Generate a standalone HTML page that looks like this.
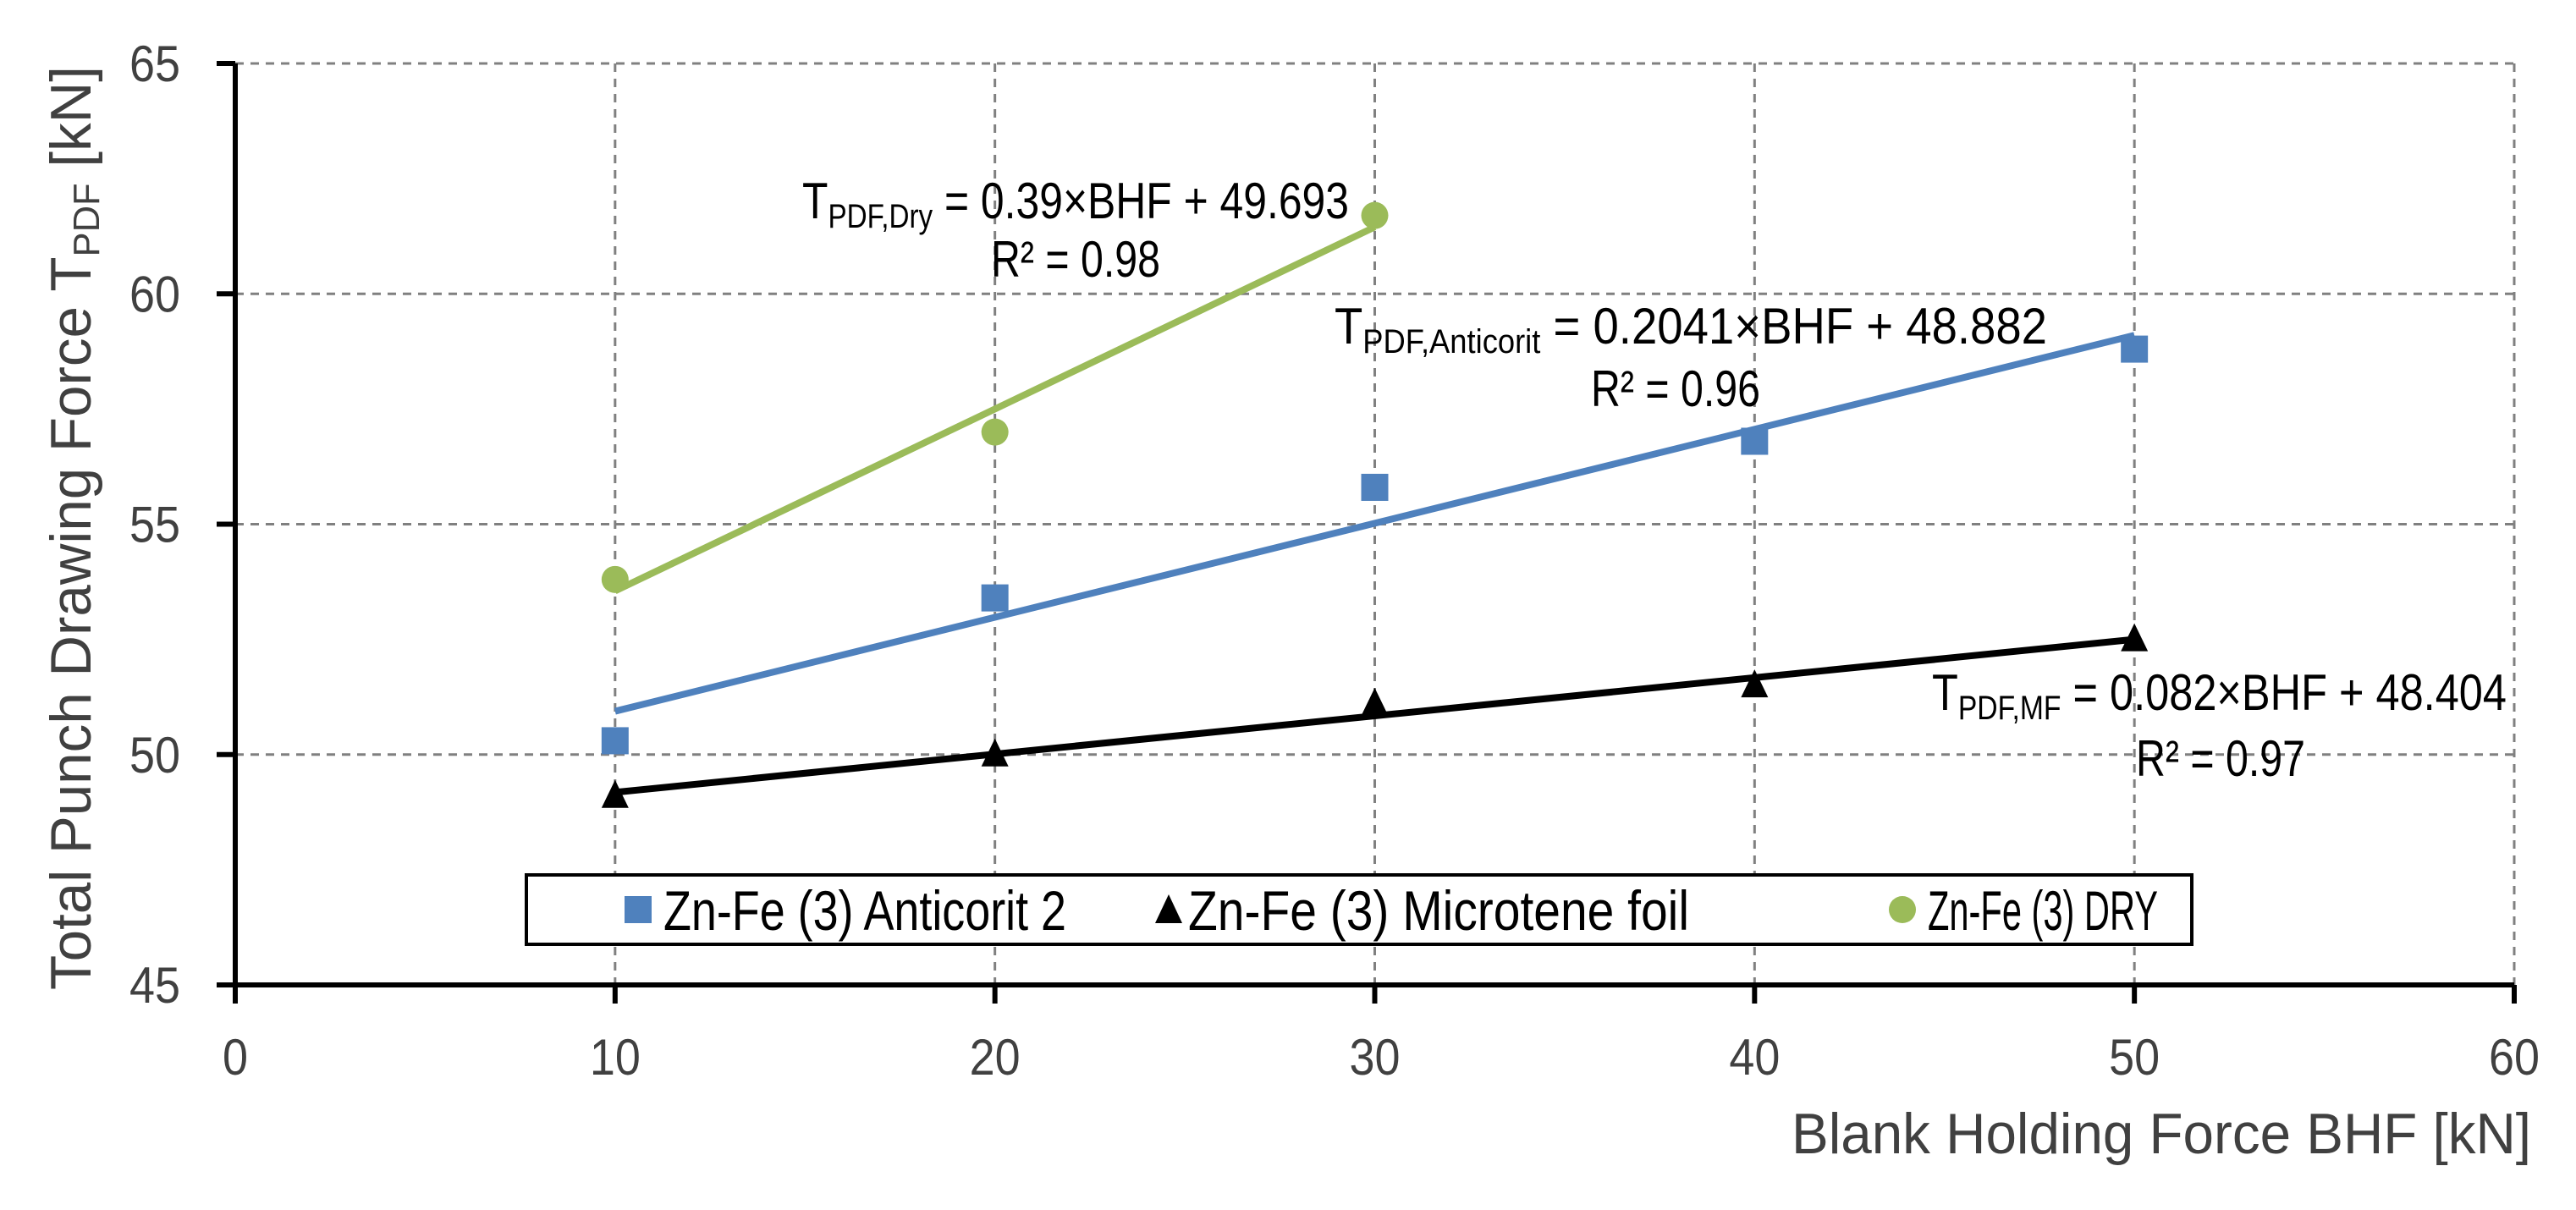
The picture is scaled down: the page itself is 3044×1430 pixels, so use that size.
<!DOCTYPE html>
<html><head><meta charset="utf-8"><style>
html,body{margin:0;padding:0;background:#fff;}
svg{display:block;font-family:"Liberation Sans",sans-serif;}
</style></head><body>
<svg id="chart" width="3044" height="1430" viewBox="0 0 3044 1430" xmlns="http://www.w3.org/2000/svg">
<g id="grid"></g>
<g id="series"></g>
<g id="axes"></g>
<g id="labels"></g>
</svg>
<script>
const xTicks = [0, 10, 20, 30, 40, 50, 60];
const yTicks = [45, 50, 55, 60, 65];
const anticoritX = [10, 20, 30, 40, 50];
const anticoritY = [50.3, 53.4, 55.8, 56.8, 58.8];
const mfX = [10, 20, 30, 40, 50];
const mfY = [49.1, 50.0, 51.1, 51.5, 52.5];
const dryX = [10, 20, 30];
const dryY = [53.8, 57.0, 61.7];

const NS = 'http://www.w3.org/2000/svg';
const X0 = 278, X1 = 2971, Y0 = 1164, Y1 = 75;
const xMin = 0, xMax = 60, yMin = 45, yMax = 65;
function sx(v){ return X0 + (v - xMin) / (xMax - xMin) * (X1 - X0); }
function sy(v){ return Y0 - (v - yMin) / (yMax - yMin) * (Y0 - Y1); }
function mk(tag, attrs, parent){
  const e = document.createElementNS(NS, tag);
  for (const k in attrs) e.setAttribute(k, attrs[k]);
  parent.appendChild(e);
  return e;
}
const grid = document.getElementById('grid');
const series = document.getElementById('series');
const axes = document.getElementById('axes');
const labels = document.getElementById('labels');

yTicks.forEach(v => {
  if (v === yMin) return;
  const l = mk('line', {x1: X0, x2: X1, y1: sy(v), y2: sy(v), stroke: '#808080', 'stroke-width': 3, 'stroke-dasharray': '10,8'}, grid);
  
  
});
xTicks.forEach(v => {
  if (v === xMin) return;
  const l = mk('line', {x1: sx(v), x2: sx(v), y1: Y1, y2: Y0, stroke: '#808080', 'stroke-width': 3, 'stroke-dasharray': '10,8'}, grid);
  
  
});

let a = mk('line', {x1: X0, x2: X0, y1: Y1, y2: Y0 + 22, stroke: '#000', 'stroke-width': 6}, axes);


a = mk('line', {x1: X0 - 22, x2: X1, y1: Y0, y2: Y0, stroke: '#000', 'stroke-width': 6}, axes);


yTicks.forEach(v => {
  const t = mk('line', {x1: X0 - 22, x2: X0, y1: sy(v), y2: sy(v), stroke: '#000', 'stroke-width': 6}, axes);
  
  
  const tx = mk('text', {x: 213, y: sy(v) + 21, 'text-anchor': 'end', 'font-size': 60, fill: '#404040', textLength: 60, lengthAdjust: 'spacingAndGlyphs'}, labels);
  tx.textContent = v;
  
  
});
xTicks.forEach(v => {
  const t = mk('line', {x1: sx(v), x2: sx(v), y1: Y0, y2: Y0 + 22, stroke: '#000', 'stroke-width': 6}, axes);
  
  
  const w = String(v).length * 30;
  const tx = mk('text', {x: sx(v), y: 1270, 'text-anchor': 'middle', 'font-size': 60, fill: '#404040', textLength: w, lengthAdjust: 'spacingAndGlyphs'}, labels);
  tx.textContent = v;
  
  
});

function fit(xs, ys){
  const n = xs.length;
  const mx = xs.reduce((s,v)=>s+v,0)/n, my = ys.reduce((s,v)=>s+v,0)/n;
  let num = 0, den = 0;
  for (let i=0;i<n;i++){ num += (xs[i]-mx)*(ys[i]-my); den += (xs[i]-mx)**2; }
  const m = num/den; return {m, b: my - m*mx};
}
function drawSeries(xs, ys, color, shape, name){
  const f = fit(xs, ys);
  const lo = Math.min(...xs), hi = Math.max(...xs);
  const ln = mk('line', {x1: sx(lo), y1: sy(f.m*lo+f.b), x2: sx(hi), y2: sy(f.m*hi+f.b), stroke: color, 'stroke-width': 8}, series);
  
  
  xs.forEach((x, i) => {
    const cx = sx(x), cy = sy(ys[i]);
    let p;
    if (shape === 'square') p = mk('rect', {x: cx-16, y: cy-16, width: 32, height: 32, fill: color}, series);
    else if (shape === 'triangle') p = mk('polygon', {points: `${cx},${cy-19} ${cx-16},${cy+14} ${cx+16},${cy+14}`, fill: color}, series);
    else p = mk('circle', {cx: cx, cy: cy, r: 16, fill: color}, series);
    
    
  });
}
drawSeries(anticoritX, anticoritY, '#4f81bd', 'square', 'anticorit');
drawSeries(mfX, mfY, '#000000', 'triangle', 'microtene');
drawSeries(dryX, dryY, '#9bbb59', 'circle', 'dry');
</script>
<script>
const L = document.getElementById('labels');
L.insertAdjacentHTML('beforeend', `
<text x="2991" y="1363" text-anchor="end" font-size="68" fill="#404040" textLength="874" lengthAdjust="spacingAndGlyphs">Blank Holding Force BHF [kN]</text>
<text transform="translate(107,1170) rotate(-90)" x="0" y="0" font-size="68" fill="#404040" textLength="1092" lengthAdjust="spacingAndGlyphs">Total Punch Drawing Force T<tspan font-size="44" dy="10">PDF</tspan><tspan dy="-10"> [kN]</tspan></text>
<text x="948" y="258" font-size="60" fill="#000" textLength="646" lengthAdjust="spacingAndGlyphs">T<tspan font-size="40" dy="11">PDF,Dry</tspan><tspan dy="-11"> = 0.39×BHF + 49.693</tspan></text>
<text x="1271" y="327" text-anchor="middle" font-size="60" fill="#000" textLength="200" lengthAdjust="spacingAndGlyphs">R² = 0.98</text>
<text x="1577" y="406" font-size="60" fill="#000" textLength="842" lengthAdjust="spacingAndGlyphs">T<tspan font-size="40" dy="11">PDF,Anticorit</tspan><tspan dy="-11">   = 0.2041×BHF + 48.882</tspan></text>
<text x="1980" y="480" text-anchor="middle" font-size="60" fill="#000" textLength="200" lengthAdjust="spacingAndGlyphs">R² = 0.96</text>
<text x="2283" y="839" font-size="60" fill="#000" textLength="679" lengthAdjust="spacingAndGlyphs">T<tspan font-size="40" dy="11">PDF,MF</tspan><tspan dy="-11"> = 0.082×BHF + 48.404</tspan></text>
<text x="2624" y="917" text-anchor="middle" font-size="60" fill="#000" textLength="200" lengthAdjust="spacingAndGlyphs">R² = 0.97</text>
<g>
<rect x="622" y="1034" width="1968" height="82" fill="#fff" stroke="#000" stroke-width="4"/>
<rect x="738" y="1059" width="32" height="32" fill="#4f81bd"/>
<text x="784" y="1099" font-size="66" fill="#000" textLength="476" lengthAdjust="spacingAndGlyphs">Zn-Fe (3) Anticorit 2</text>
<polygon points="1381,1057 1365,1091 1397,1091" fill="#000"/>
<text x="1404" y="1099" font-size="66" fill="#000" textLength="592" lengthAdjust="spacingAndGlyphs">Zn-Fe (3) Microtene foil</text>
<circle cx="2248" cy="1075" r="16" fill="#9bbb59"/>
<text x="2278" y="1099" font-size="66" fill="#000" textLength="272" lengthAdjust="spacingAndGlyphs">Zn-Fe (3) DRY</text>
</g>`);
</script>
</body></html>
